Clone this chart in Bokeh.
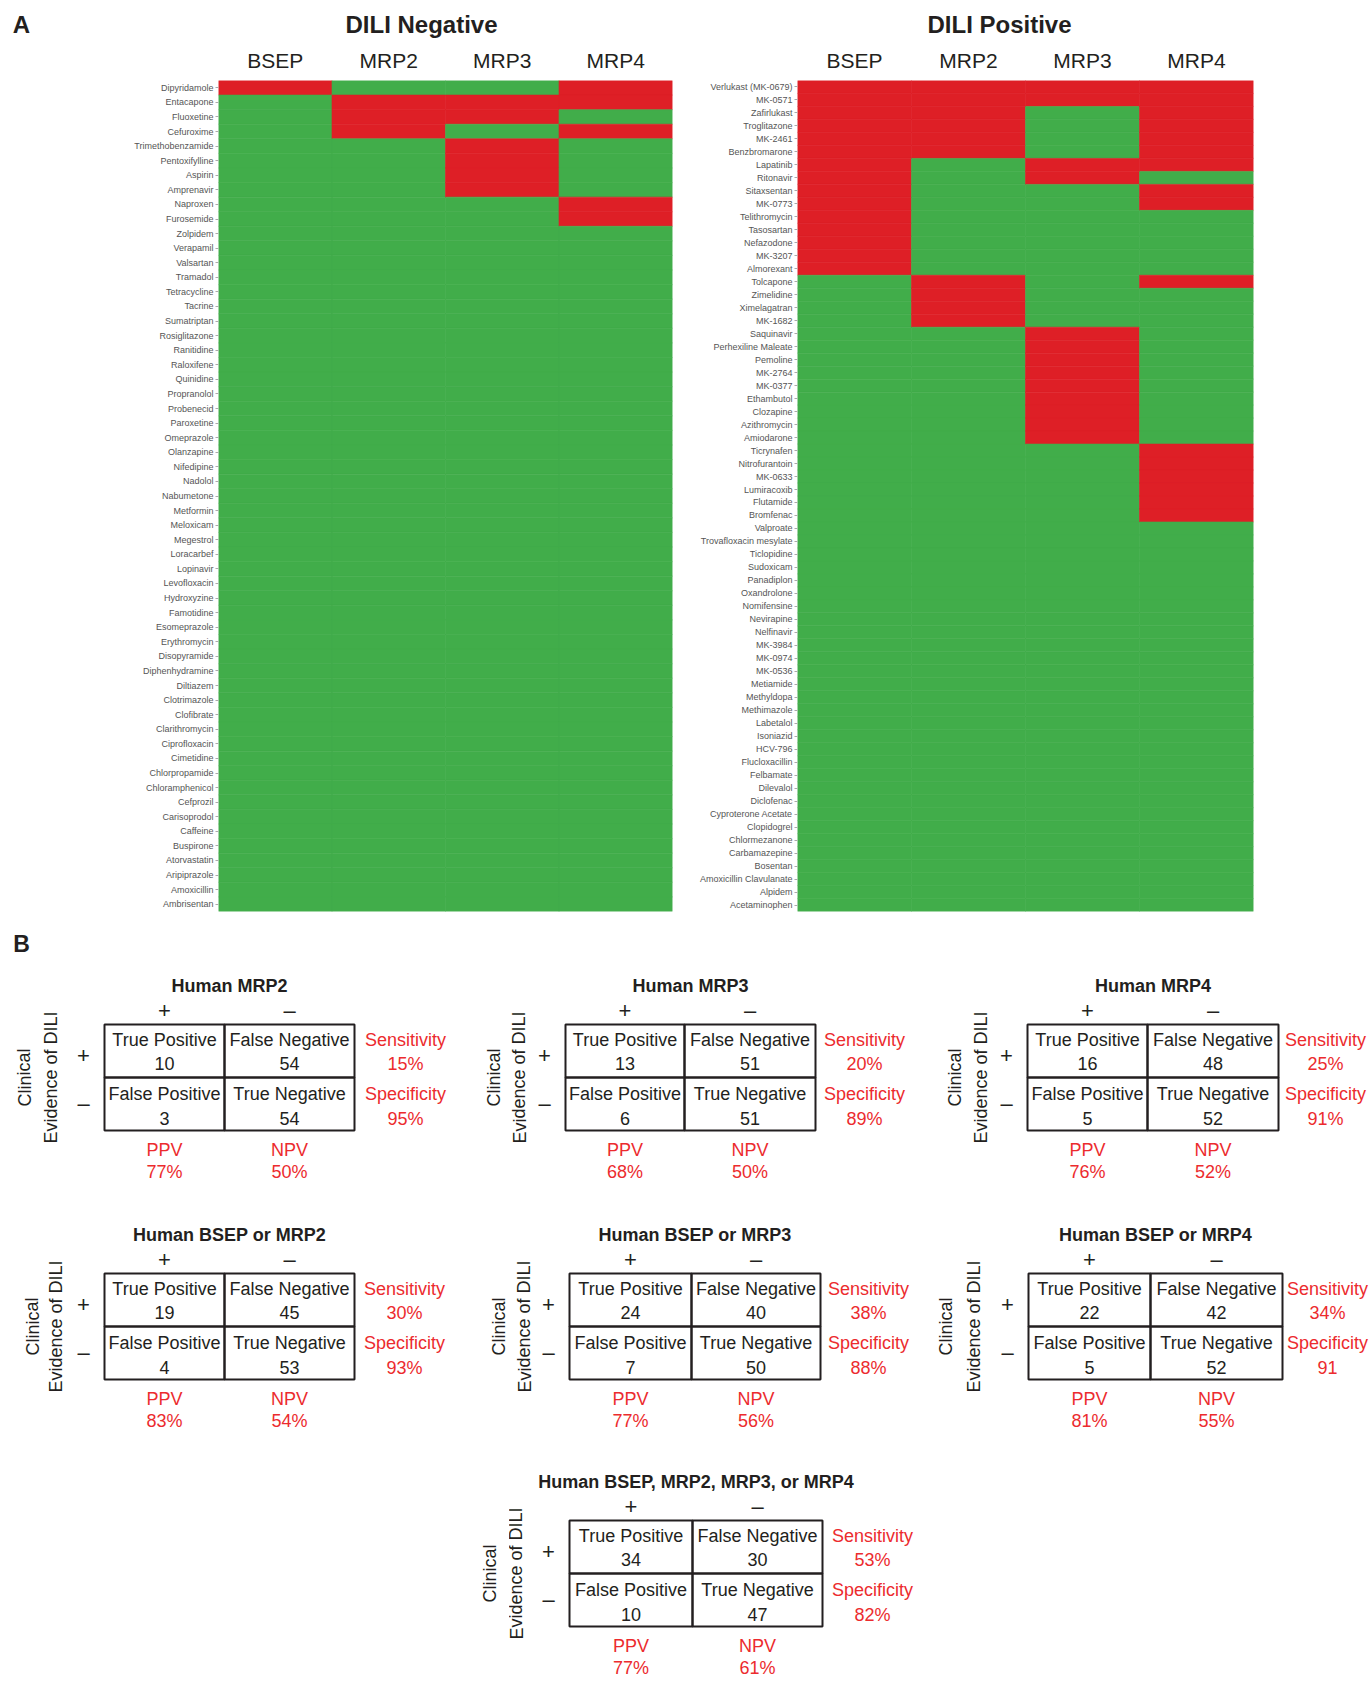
from math import pi
from bokeh.plotting import figure
from bokeh.models import FactorRange, Range1d, ColumnDataSource
from bokeh.layouts import column, row
from bokeh.embed import file_html
from bokeh.resources import INLINE
from bokeh.core.properties import value

# ---------------- data ----------------
transporters = ["BSEP", "MRP2", "MRP3", "MRP4"]
group_titles = ["DILI Negative", "DILI Positive"]

neg_drugs = ["Dipyridamole", "Entacapone", "Fluoxetine", "Cefuroxime", "Trimethobenzamide",
             "Pentoxifylline", "Aspirin", "Amprenavir", "Naproxen", "Furosemide", "Zolpidem",
             "Verapamil", "Valsartan", "Tramadol", "Tetracycline", "Tacrine", "Sumatriptan",
             "Rosiglitazone", "Ranitidine", "Raloxifene", "Quinidine", "Propranolol", "Probenecid",
             "Paroxetine", "Omeprazole", "Olanzapine", "Nifedipine", "Nadolol", "Nabumetone",
             "Metformin", "Meloxicam", "Megestrol", "Loracarbef", "Lopinavir", "Levofloxacin",
             "Hydroxyzine", "Famotidine", "Esomeprazole", "Erythromycin", "Disopyramide",
             "Diphenhydramine", "Diltiazem", "Clotrimazole", "Clofibrate", "Clarithromycin",
             "Ciprofloxacin", "Cimetidine", "Chlorpropamide", "Chloramphenicol", "Cefprozil",
             "Carisoprodol", "Caffeine", "Buspirone", "Atorvastatin", "Aripiprazole",
             "Amoxicillin", "Ambrisentan"]

pos_drugs = ["Verlukast (MK-0679)", "MK-0571", "Zafirlukast", "Troglitazone", "MK-2461",
             "Benzbromarone", "Lapatinib", "Ritonavir", "Sitaxsentan", "MK-0773", "Telithromycin",
             "Tasosartan", "Nefazodone", "MK-3207", "Almorexant", "Tolcapone", "Zimelidine",
             "Ximelagatran", "MK-1682", "Saquinavir", "Perhexiline Maleate", "Pemoline", "MK-2764",
             "MK-0377", "Ethambutol", "Clozapine", "Azithromycin", "Amiodarone", "Ticrynafen",
             "Nitrofurantoin", "MK-0633", "Lumiracoxib", "Flutamide", "Bromfenac", "Valproate",
             "Trovafloxacin mesylate", "Ticlopidine", "Sudoxicam", "Panadiplon", "Oxandrolone",
             "Nomifensine", "Nevirapine", "Nelfinavir", "MK-3984", "MK-0974", "MK-0536",
             "Metiamide", "Methyldopa", "Methimazole", "Labetalol", "Isoniazid", "HCV-796",
             "Flucloxacillin", "Felbamate", "Dilevalol", "Diclofenac", "Cyproterone Acetate",
             "Clopidogrel", "Chlormezanone", "Carbamazepine", "Bosentan",
             "Amoxicillin Clavulanate", "Alpidem", "Acetaminophen"]

# drugs that inhibit each transporter (red cells)
neg_bsep_hits = ["Dipyridamole"]
neg_mrp2_hits = ["Entacapone", "Fluoxetine", "Cefuroxime"]
neg_mrp3_hits = ["Entacapone", "Fluoxetine", "Trimethobenzamide", "Pentoxifylline", "Aspirin", "Amprenavir"]
neg_mrp4_hits = ["Dipyridamole", "Entacapone", "Cefuroxime", "Naproxen", "Furosemide"]

pos_bsep_hits = ["Verlukast (MK-0679)", "MK-0571", "Zafirlukast", "Troglitazone", "MK-2461",
                 "Benzbromarone", "Lapatinib", "Ritonavir", "Sitaxsentan", "MK-0773",
                 "Telithromycin", "Tasosartan", "Nefazodone", "MK-3207", "Almorexant"]
pos_mrp2_hits = ["Verlukast (MK-0679)", "MK-0571", "Zafirlukast", "Troglitazone", "MK-2461",
                 "Benzbromarone", "Tolcapone", "Zimelidine", "Ximelagatran", "MK-1682"]
pos_mrp3_hits = ["Verlukast (MK-0679)", "MK-0571", "Lapatinib", "Ritonavir", "Saquinavir",
                 "Perhexiline Maleate", "Pemoline", "MK-2764", "MK-0377", "Ethambutol",
                 "Clozapine", "Azithromycin", "Amiodarone"]
pos_mrp4_hits = ["Verlukast (MK-0679)", "MK-0571", "Zafirlukast", "Troglitazone", "MK-2461",
                 "Benzbromarone", "Lapatinib", "Sitaxsentan", "MK-0773", "Tolcapone",
                 "Ticrynafen", "Nitrofurantoin", "MK-0633", "Lumiracoxib", "Flutamide", "Bromfenac"]

# panel B contingency tables
table_titles = ["Human MRP2", "Human MRP3", "Human MRP4", "Human BSEP or MRP2",
                "Human BSEP or MRP3", "Human BSEP or MRP4", "Human BSEP, MRP2, MRP3, or MRP4"]
true_pos = [10, 13, 16, 19, 24, 22, 34]
false_neg = [54, 51, 48, 45, 40, 42, 30]
false_pos = [3, 6, 5, 4, 7, 5, 10]
true_neg = [54, 51, 52, 53, 50, 52, 47]
sensitivity = ["15%", "20%", "25%", "30%", "38%", "34%", "53%"]
specificity = ["95%", "89%", "91%", "93%", "88%", "91", "82%"]
ppv = ["77%", "68%", "76%", "83%", "77%", "81%", "77%"]
npv = ["50%", "50%", "52%", "54%", "56%", "55%", "61%"]

# ---------------- styles ----------------
RED = "#DE1F26"
GREEN = "#41AD4A"
INK = "#231F20"
RED_TXT = "#EC2B2E"
SANS = "Liberation Sans"


def bare(width, height, xr, yr):
    f = figure(width=width, height=height, x_range=xr, y_range=yr,
               output_backend="svg", toolbar_location=None, min_border=0)
    f.axis.visible = False
    f.grid.visible = False
    f.outline_line_color = None
    return f


def heatmap(drugs, hits, width, border_left, border_right):
    xs, ys, cs = [], [], []
    for t, h in zip(transporters, hits):
        for d in drugs:
            xs.append(t)
            ys.append(d)
            cs.append(RED if d in h else GREEN)
    src = ColumnDataSource(dict(x=xs, y=ys, c=cs))
    p = figure(width=width, height=880, x_range=FactorRange(*transporters),
               y_range=FactorRange(*drugs[::-1]), x_axis_location="above",
               output_backend="svg", toolbar_location=None,
               min_border_left=border_left, min_border_right=border_right,
               min_border_top=40, min_border_bottom=9)
    p.rect(x="x", y="y", width=1, height=1, source=src, fill_color="c",
           line_color="c", line_width=0.6)
    p.xaxis.major_label_text_font = SANS
    p.xaxis.major_label_text_font_size = "21px"
    p.xaxis.major_label_text_color = INK
    p.xaxis.major_tick_line_color = None
    p.xaxis.axis_line_color = None
    p.xaxis.major_label_standoff = 3
    p.yaxis.major_label_text_font = SANS
    p.yaxis.major_label_text_font_size = "9px"
    p.yaxis.major_label_text_color = "#555555"
    p.yaxis.major_tick_out = 3
    p.yaxis.major_tick_in = 0
    p.yaxis.major_tick_line_color = "#AAAAAA"
    p.yaxis.axis_line_color = None
    p.yaxis.major_label_standoff = 2
    p.grid.visible = False
    p.outline_line_color = None
    return p


# header strip: panel letter A and the two group titles
strip = bare(1369, 40, Range1d(0, 1369), Range1d(40, 0))
strip.text(x=[21], y=[24], text=["A"], text_font=value(SANS), text_font_size="24px",
           text_font_style="bold", text_align="center", text_baseline="middle", text_color=INK)
strip.text(x=[421, 999], y=[24, 24], text=group_titles, text_font=value(SANS),
           text_font_size="24px", text_font_style="bold", text_align="center",
           text_baseline="middle", text_color=INK)

left = heatmap(neg_drugs, [neg_bsep_hits, neg_mrp2_hits, neg_mrp3_hits, neg_mrp4_hits],
               680, 218, 8)
right = heatmap(pos_drugs, [pos_bsep_hits, pos_mrp2_hits, pos_mrp3_hits, pos_mrp4_hits],
                689, 117, 116)

# ---------------- panel B ----------------
pb = bare(1369, 761, Range1d(0, 1369), Range1d(1681, 920))
pb.text(x=[21], y=[943], text=["B"], text_font=value(SANS), text_font_size="23px",
        text_font_style="bold", text_align="center", text_baseline="middle", text_color=INK)

# table placement: (box left, box right, divider, box top, ylabel x1, ylabel x2, stats x)
boxes = [(104, 354, 224, 1024, 24, 50, 405),
         (565, 815, 684, 1024, 493, 519, 864),
         (1027, 1278, 1147, 1024, 954, 980, 1325),
         (104, 354, 224, 1273, 32, 55, 404),
         (569, 820, 691, 1273, 498, 524, 868),
         (1028, 1282, 1150, 1273, 945, 973, 1327),
         (569, 822, 692, 1520, 489, 516, 872)]
H = 106

q = dict(l=[], r=[], t=[], b=[])
blk = dict(x=[], y=[], t=[], a=[])
sgn = dict(x=[], y=[], t=[])
red = dict(x=[], y=[], t=[])
ttl = dict(x=[], y=[], t=[])


def add(d, x, y, t, a=None):
    d["x"].append(x)
    d["y"].append(y)
    d["t"].append(t)
    if a is not None:
        d["a"].append(a)


for i, (L, R, M, T, y1, y2, sx) in enumerate(boxes):
    mid = T + H / 2
    for (l, r) in [(L, M), (M, R)]:
        for (t, b) in [(T, mid), (mid, T + H)]:
            q["l"].append(l); q["r"].append(r); q["t"].append(t); q["b"].append(b)
    cl, cr = (L + M) / 2, (M + R) / 2
    add(ttl, (L + R) / 2, T - 39, table_titles[i])
    add(sgn, cl, T - 14, "+"); add(sgn, cr, T - 14, "–")
    add(sgn, L - 21, T + 31, "+"); add(sgn, L - 21, T + 79, "–")
    add(blk, cl, T + 15, "True Positive", 0); add(blk, cl, T + 39, str(true_pos[i]), 0)
    add(blk, cr, T + 15, "False Negative", 0); add(blk, cr, T + 39, str(false_neg[i]), 0)
    add(blk, cl, T + 69, "False Positive", 0); add(blk, cl, T + 94, str(false_pos[i]), 0)
    add(blk, cr, T + 69, "True Negative", 0); add(blk, cr, T + 94, str(true_neg[i]), 0)
    add(blk, y1, mid, "Clinical", pi / 2); add(blk, y2, mid, "Evidence of DILI", pi / 2)
    add(red, sx, T + 15, "Sensitivity"); add(red, sx, T + 39, sensitivity[i])
    add(red, sx, T + 69, "Specificity"); add(red, sx, T + 94, specificity[i])
    add(red, cl, T + 125, "PPV"); add(red, cl, T + 147, ppv[i])
    add(red, cr, T + 125, "NPV"); add(red, cr, T + 147, npv[i])

pb.quad(left="l", right="r", top="t", bottom="b", source=ColumnDataSource(q),
        fill_color=None, line_color=INK, line_width=2)
pb.text(x="x", y="y", text="t", angle="a", source=ColumnDataSource(blk),
        text_font=value(SANS), text_font_size="18px", text_color=INK,
        text_align="center", text_baseline="middle")
pb.text(x="x", y="y", text="t", source=ColumnDataSource(sgn),
        text_font=value(SANS), text_font_size="22px", text_color=INK,
        text_align="center", text_baseline="middle")
pb.text(x="x", y="y", text="t", source=ColumnDataSource(red),
        text_font=value(SANS), text_font_size="18px", text_color=RED_TXT,
        text_align="center", text_baseline="middle")
pb.text(x="x", y="y", text="t", source=ColumnDataSource(ttl),
        text_font=value(SANS), text_font_size="18px", text_font_style="bold",
        text_color=INK, text_align="center", text_baseline="middle")

layout = column(strip, row(left, right), pb)
open("out.html", "w").write(file_html(layout, INLINE))
